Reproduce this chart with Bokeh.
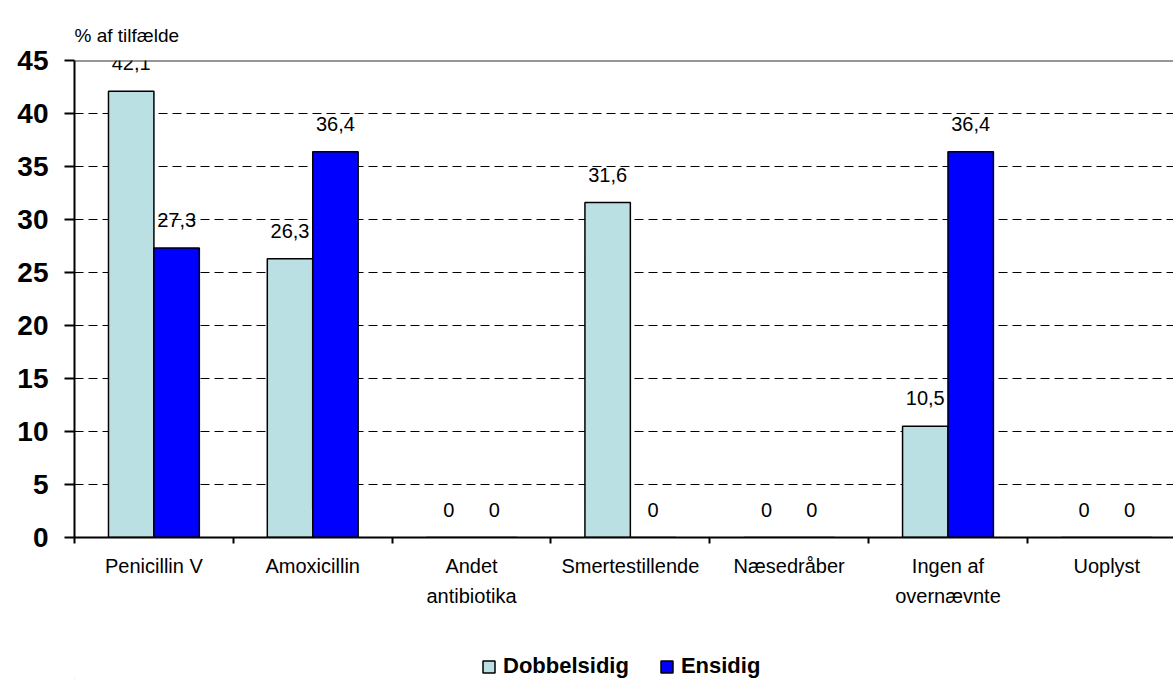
from bokeh.plotting import figure
from bokeh.layouts import column
from bokeh.models import (ColumnDataSource, FixedTicker, LabelSet, Legend, LegendItem,
                          Span, Range1d)
from bokeh.core.properties import value
from bokeh.transform import dodge
from bokeh.embed import file_html
from bokeh.resources import INLINE

categories = ["Penicillin V", "Amoxicillin", "Andet\nantibiotika", "Smertestillende",
              "Næsedråber", "Ingen af\novernævnte", "Uoplyst"]
dobbelsidig = [42.1, 26.3, 0, 31.6, 0, 10.5, 0]
ensidig = [27.3, 36.4, 0, 0, 0, 36.4, 0]
y_ticks = [0, 5, 10, 15, 20, 25, 30, 35, 40, 45]
series_names = ["Dobbelsidig", "Ensidig"]
y_title = "% af tilfælde"

FONT = "Liberation Sans"
C_LIGHT = "#BBE0E3"
C_BLUE = "#0000FF"

xpos = [i + 0.5 for i in range(len(categories))]
src = ColumnDataSource(dict(
    x=xpos, d=dobbelsidig, e=ensidig,
    dl=[f"{v:g}".replace(".", ",") for v in dobbelsidig],
    el=[f"{v:g}".replace(".", ",") for v in ensidig],
))

p = figure(width=1173, height=640, output_backend="svg", toolbar_location=None,
           x_range=Range1d(0, 6.92), y_range=Range1d(0, 45),
           min_border_left=74, min_border_right=0, min_border_top=60, min_border_bottom=103)
p.outline_line_color = None
p.background_fill_color = "white"
p.border_fill_color = "white"

p.title.text = y_title
p.title.align = "left"
p.title.text_font = FONT
p.title.text_font_size = "19px"
p.title.text_font_style = "normal"
p.title.text_color = "black"
p.title.standoff = 30

bw = 0.286
r1 = p.vbar(x=dodge("x", -bw / 2), top="d", width=bw, source=src,
            fill_color=C_LIGHT, line_color="black", line_width=1.5)
r2 = p.vbar(x=dodge("x", bw / 2), top="e", width=bw, source=src,
            fill_color=C_BLUE, line_color="black", line_width=1.5)

for col, lab, off in (("d", "dl", -bw / 2), ("e", "el", bw / 2)):
    ls = LabelSet(x=dodge("x", off), y=col, text=lab, source=src,
                  text_align="center", text_baseline="alphabetic", y_offset=21,
                  text_font=value(FONT), text_font_size=value("20px"), text_color="black")
    p.add_layout(ls)

p.add_layout(Span(location=45, dimension="width", line_color="#303030", line_width=2))

# axes
p.yaxis.ticker = FixedTicker(ticks=y_ticks)
p.yaxis.axis_line_color = "black"
p.yaxis.axis_line_width = 2
p.yaxis.major_tick_out = 10
p.yaxis.major_tick_in = 0
p.yaxis.major_tick_line_width = 2
p.yaxis.minor_tick_line_color = None
p.yaxis.major_label_text_font = FONT
p.yaxis.major_label_text_font_size = "28px"
p.yaxis.major_label_text_font_style = "bold"
p.yaxis.major_label_text_color = "black"
p.yaxis.major_label_standoff = 16

p.xaxis.ticker = FixedTicker(ticks=xpos, minor_ticks=list(range(len(categories) + 1)))
p.xaxis.major_label_overrides = {x: c for x, c in zip(xpos, categories)}
p.xaxis.axis_line_color = "black"
p.xaxis.axis_line_width = 2
p.xaxis.major_tick_line_color = None
p.xaxis.major_tick_out = 0
p.xaxis.major_tick_in = 0
p.xaxis.minor_tick_line_color = "black"
p.xaxis.minor_tick_line_width = 2
p.xaxis.minor_tick_out = 6
p.xaxis.minor_tick_in = 0
p.xaxis.major_label_text_font = FONT
p.xaxis.major_label_text_font_size = "20px"
p.xaxis.major_label_text_color = "black"
p.xaxis.major_label_standoff = 11
p.xaxis.major_label_text_line_height = 1.4

p.xgrid.grid_line_color = None
p.ygrid.ticker = FixedTicker(ticks=y_ticks[1:-1])
p.ygrid.grid_line_color = "black"
p.ygrid.grid_line_dash = "9 5"
p.ygrid.grid_line_width = 1

# legend in its own strip below the chart
pl = figure(width=1173, height=39, output_backend="svg", toolbar_location=None,
            x_range=Range1d(0, 1), y_range=Range1d(0, 1),
            min_border_left=0, min_border_right=0, min_border_top=0, min_border_bottom=0)
pl.axis.visible = False
pl.grid.visible = False
pl.outline_line_color = None
# legend swatches: one point each, placed outside the visible range
swatch = ColumnDataSource(dict(x=[-5], top=[0]))
l1 = pl.vbar(x="x", top="top", width=0.1, source=swatch,
             fill_color=C_LIGHT, line_color="black", line_width=1.5)
l2 = pl.vbar(x="x", top="top", width=0.1, source=swatch,
             fill_color=C_BLUE, line_color="black", line_width=1.5)
legend = Legend(items=[LegendItem(label=series_names[0], renderers=[l1]),
                       LegendItem(label=series_names[1], renderers=[l2])],
                orientation="horizontal", location=(407, 0),
                label_text_font=FONT, label_text_font_size="22px",
                label_text_font_style="bold", label_text_color="black",
                glyph_width=15, glyph_height=15, label_standoff=7, spacing=30,
                padding=0, margin=0, border_line_color=None,
                background_fill_alpha=0)
pl.add_layout(legend, "center")

open("out.html", "w").write(file_html(column(p, pl, spacing=0), INLINE))
